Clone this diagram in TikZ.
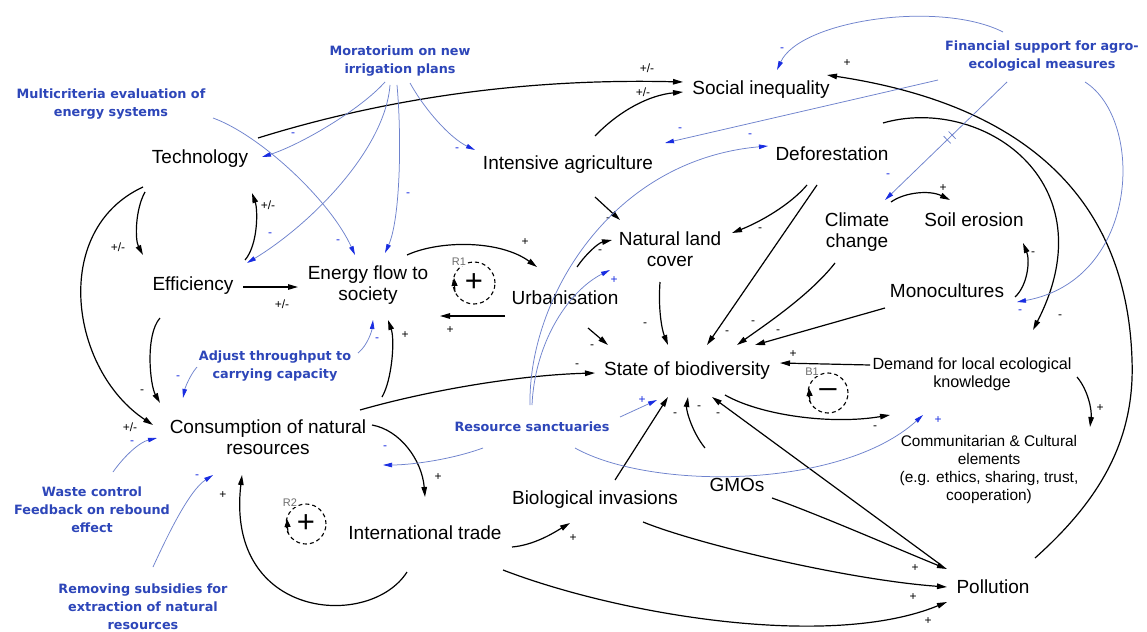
\documentclass[tikz,border=0pt]{standalone}
\usepackage{fontspec}
\setmainfont{Liberation Sans}
\newfontfamily\blfont{DejaVu Sans}
\usetikzlibrary{arrows.meta}
\definecolor{txtblue}{RGB}{45,70,185}
\definecolor{lnblue}{RGB}{110,130,205}
\definecolor{tipblue}{RGB}{25,45,225}
\definecolor{loopgray}{RGB}{110,110,110}
\begin{document}
\begin{tikzpicture}[x=1pt,y=-1pt,
  var/.style={font=\fontsize{19}{20.5}\selectfont, align=center, inner sep=1pt},
  svar/.style={font=\fontsize{16.2}{18}\selectfont, align=center, inner sep=1pt},
  svartwo/.style={font=\fontsize{15.4}{18}\selectfont, align=center, inner sep=1pt},
  lever/.style={font=\blfont\bfseries\fontsize{12.8}{18}\selectfont, text=txtblue, align=center, inner sep=1pt},
  kl/.style={draw=black, line width=1.2pt, -{Triangle[length=10pt,width=5.5pt]}},
  bl/.style={draw=lnblue, line width=0.75pt, -{Triangle[length=9pt,width=4.5pt,color=tipblue]}},
  pol/.style={font=\fontsize{12}{12}\selectfont, inner sep=0pt},
  bpol/.style={pol, text=tipblue},
  loopsym/.style={inner sep=0pt, font=\fontsize{31}{31}\selectfont},
  loopdash/.style={draw, dash pattern=on 4pt off 3pt, line width=1.1pt},
  looplab/.style={font=\fontsize{11}{11}\selectfont, text=loopgray, fill=white, inner sep=0.3pt},
  looparr/.style={line width=1.1pt, -{Triangle[length=8pt,width=6pt]}}
]
\useasboundingbox[fill=white] (0,0) rectangle (1147,631);

% ---------- variables ----------
\node[var] (soc) at (761,90) {Social inequality};
\node[var] (tech) at (200,159) {Technology};
\node[var] (intag) at (568,165) {Intensive agriculture};
\node[var] (defor) at (832,154) {Deforestation};
\node[var] (nat) at (670,249) {Natural land\\cover};
\node[var] (clim) at (857,232) {Climate\\change};
\node[var] (soil) at (974,220) {Soil erosion};
\node[var] (eff) at (193,286) {Efficiency};
\node[var] (energy) at (368,285) {Energy flow to\\society};
\node[var] (urb) at (565,298) {Urbanisation};
\node[var] (mono) at (947,291) {Monocultures};
\node[var] (sob) at (687,371) {State of biodiversity};
\node[svar] (demand) at (972,374) {Demand for local ecological\\knowledge};
\node[var] (cons) at (268,437) {Consumption of natural\\resources};
\node[svartwo] (comm) at (989,470) {Communitarian \& Cultural\\elements\\(e.g. ethics, sharing, trust,\\cooperation)};
\node[var] (trade) at (425,533) {International trade};
\node[var] (bio) at (595,500) {Biological invasions};
\node[var] (gmo) at (737,485) {GMOs};
\node[var] (poll) at (993,587) {Pollution};

% ---------- levers ----------
\node[lever] (multi) at (111,104) {Multicriteria evaluation of\\energy systems};
\node[lever] (mora) at (400,61) {Moratorium on new\\irrigation plans};
\node[lever] (fin) at (1042,56) {Financial support for agro-\\ecological measures};
\node[lever] (adjust) at (275,366) {Adjust throughput to\\carrying capacity};
\node[lever] (waste) at (92,510) {Waste control\\Feedback on rebound\\effect};
\node[lever] (remove) at (143,607) {Removing subsidies for\\extraction of natural\\resources};
\node[lever] (sanct) at (532,427) {Resource sanctuaries};

% ---------- loops ----------
\node[loopsym] (r1) at (474,283) {+};
\draw[loopdash] (r1.center) circle[radius=21pt];
\node[looplab] (r1l) at (459,262) {R1};
\draw[looparr] ([shift={(-19,9)}]r1.center) -- ([shift={(-20,-5)}]r1.center);
\node[loopsym] (b1) at (828,393) {--};
\draw[loopdash] (b1.center) circle[radius=20pt];
\node[looplab] (b1l) at (812,372) {B1};
\draw[looparr] ([shift={(-18,9)}]b1.center) -- ([shift={(-19,-5)}]b1.center);
\node[loopsym] (r2) at (306,524) {+};
\draw[loopdash] (r2.center) circle[radius=20pt];
\node[looplab] (r2l) at (290,503) {R2};
\draw[looparr] ([shift={(-18,9)}]r2.center) -- ([shift={(-19,-5)}]r2.center);

% ---------- black links ----------
\draw[kl] ([shift={(58,-21)}]tech.center) .. controls +(122,-38) and +(-163,-4) .. ([shift={(-78,-8)}]soc.center) node[pol] (p1) at (647,68) {+/-};
\draw[kl] ([shift={(27,-29)}]intag.center) .. controls +(25,-26) and +(-33,3) .. ([shift={(-78,2)}]soc.center) node[pol] (p2) at (643,92) {+/-};
\draw[kl] ([shift={(-55,33)}]tech.center) .. controls +(-10,18) and +(-8,-15) .. ([shift={(-50,-31)}]eff.center) node[pol] (p3) at (118,247) {+/-};
\draw[kl] ([shift={(52,-26)}]eff.center) .. controls +(13,-15) and +(6,17) .. ([shift={(52,34)}]tech.center) node[pol] (p4) at (268,205) {+/-};
\draw[kl] ([shift={(50,1)}]eff.center) -- ([shift={(-70,2)}]energy.center) node[pol] (p5) at (282,304) {+/-};
\draw[kl] ([shift={(-57,28)}]tech.center) .. controls +(-93,43) and +(-83,-55) .. ([shift={(-115,-12)}]cons.center) node[pol] (p6) at (130,427) {+/-};
\draw[kl] ([shift={(-33,32)}]eff.center) .. controls +(-15,17) and +(-10,-18) .. ([shift={(-108,-34)}]cons.center) node[pol] (p7) at (142,392) {-};
\draw[kl] ([shift={(39,-30)}]energy.center) .. controls +(33,-15) and +(-37,-27) .. ([shift={(-28,-31)}]urb.center) node[pol] (p8) at (525,242) {+};
\draw[kl] ([shift={(-60,18)}]urb.center) -- ([shift={(72,31)}]energy.center) node[pol] (p9) at (450,330) {+};
\draw[kl] ([shift={(114,-40)}]cons.center) .. controls +(10,-17) and +(7,20) .. ([shift={(20,35)}]energy.center) node[pol] (p10) at (405,335) {+};
\draw[kl] ([shift={(92,-27)}]cons.center) .. controls +(70,-20) and +(-75,2) .. ([shift={(-92,2)}]sob.center) node[pol] (p11) at (577,366) {-};
\draw[kl] ([shift={(104,-12)}]cons.center) .. controls +(28,5) and +(-3,-37) .. ([shift={(0,-36)}]trade.center) node[pol] (p12) at (438,477) {+};
\draw[kl] ([shift={(-18,39)}]trade.center) .. controls +(-37,58) and +(-17,145) .. ([shift={(-26,38)}]cons.center) node[pol] (p13) at (223,495) {+};
\draw[kl] ([shift={(87,14)}]trade.center) .. controls +(23,-2) and +(-15,9) .. ([shift={(-25,23)}]bio.center) node[pol] (p14) at (573,538) {+};
\draw[kl] ([shift={(78,37)}]trade.center) .. controls +(117,45) and +(-117,48) .. ([shift={(-46,15)}]poll.center) node[pol] (p15) at (928,621) {+};
\draw[kl] ([shift={(48,22)}]bio.center) .. controls +(57,23) and +(-97,-7) .. ([shift={(-46,0)}]poll.center) node[pol] (p16) at (913,597) {+};
\draw[kl] ([shift={(35,13)}]gmo.center) .. controls +(48,17) and +(-47,-19) .. ([shift={(-46,-18)}]poll.center) node[pol] (p17) at (915,568) {+};
\draw[kl] ([shift={(20,-20)}]bio.center) -- ([shift={(-19,26)}]sob.center) node[pol] (p19) at (675,415) {-};
\draw[kl] ([shift={(-32,-37)}]gmo.center) .. controls +(-13,-16) and +(-2,13) .. ([shift={(1,26)}]sob.center) node[pol] (p20) at (699,408) {-};
\draw[kl] ([shift={(-52,-22)}]poll.center) -- ([shift={(25,26)}]sob.center) node[pol] (p21) at (718,415) {-};
\draw[kl] ([shift={(38,24)}]sob.center) .. controls +(35,20) and +(-60,10) .. ([shift={(-82,41)}]demand.center) node[pol] (p22) at (875,428) {-};
\draw[kl] ([shift={(-102,-9)}]demand.center) -- ([shift={(93,-8)}]sob.center) node[pol] (p23) at (793,354) {+};
\draw[kl] ([shift={(105,3)}]demand.center) .. controls +(11,13) and +(2,-17) .. ([shift={(101,-43)}]comm.center) node[pol] (p24) at (1100,408) {+};
\coordinate (pmid) at (1132,360);
\draw[kl] ([shift={(42,-29)}]poll.center) .. controls +(65,-58) and +(3,80) .. (pmid) .. controls +(-4,-130) and +(233,35) .. ([shift={(66,-15)}]soc.center) node[pol] (p25) at (847,63) {+};
\draw[kl] ([shift={(51,-31)}]defor.center) .. controls +(97,-28) and +(77,-150) .. ([shift={(61,-44)}]demand.center) node[pol] (p26) at (1060,317) {-};
\draw[kl] ([shift={(-25,31)}]defor.center) .. controls +(-17,20) and +(28,-11) .. ([shift={(62,-16)}]nat.center) node[pol] (p27) at (760,230) {-};
\draw[kl] ([shift={(-15,31)}]defor.center) -- ([shift={(20,-26)}]sob.center) node[pol] (p28) at (727,333) {-};
\draw[kl] ([shift={(-22,31)}]clim.center) .. controls +(-25,32) and +(28,-20) .. ([shift={(50,-26)}]sob.center) node[pol] (p29) at (753,323) {-};
\draw[kl] ([shift={(-62,17)}]mono.center) -- ([shift={(68,-26)}]sob.center) node[pol] (p30) at (778,332) {-};
\draw[kl] ([shift={(68,6)}]mono.center) .. controls +(13,-12) and +(7,17) .. ([shift={(49,23)}]soil.center) node[pol] (p31) at (1033,254) {-};
\draw[kl] ([shift={(34,-30)}]clim.center) .. controls +(14,-10) and +(-20,-10) .. ([shift={(-24,-20)}]soil.center) node[pol] (p32) at (943,188) {+};
\draw[kl] ([shift={(27,32)}]intag.center) -- ([shift={(-50,-29)}]nat.center) node[pol] (p33) at (608,220) {-};
\draw[kl] ([shift={(12,-31)}]urb.center) .. controls +(8,-12) and +(-14,3) .. ([shift={(-58,-9)}]nat.center) node[pol] (p34) at (600,252) {-};
\draw[kl] ([shift={(-10,33)}]nat.center) .. controls +(-2,28) and +(-6,-15) .. ([shift={(-19,-26)}]sob.center) node[pol] (p35) at (645,325) {-};
\draw[kl] ([shift={(23,30)}]urb.center) -- ([shift={(-79,-26)}]sob.center) node[pol] (p36) at (592,347) {-};

% ---------- blue links ----------
\draw[bl] ([shift={(-15,21)}]mora.center) .. controls +(-25,28) and +(38,-12) .. ([shift={(62,-2)}]tech.center) node[bpol] (q1) at (293,135) {-};
\draw[bl] ([shift={(-10,24)}]mora.center) .. controls +(-5,65) and +(63,-38) .. ([shift={(54,-23)}]eff.center) node[bpol] (q2) at (270,235) {-};
\draw[bl] ([shift={(102,14)}]multi.center) .. controls +(47,17) and +(-25,-55) .. ([shift={(-13,-30)}]energy.center) node[bpol] (q3) at (338,242) {-};
\draw[bl] ([shift={(-3,24)}]mora.center) .. controls +(5,55) and +(15,-33) .. ([shift={(17,-32)}]energy.center) node[bpol] (q4) at (408,195) {-};
\draw[bl] ([shift={(10,22)}]mora.center) .. controls +(15,27) and +(-25,-12) .. ([shift={(-93,-15)}]intag.center) node[bpol] (q5) at (457,150) {-};
\draw[bl] ([shift={(-39,-24)}]fin.center) .. controls +(-63,-32) and +(23,-50) .. ([shift={(16,-20)}]soc.center) node[bpol] (q6) at (782,50) {-};
\draw[bl] ([shift={(-104,24)}]fin.center) -- ([shift={(97,-22)}]intag.center) node[bpol] (q7) at (680,130) {-};
\draw[bl] ([shift={(-35,26)}]fin.center) -- ([shift={(28,-32)}]clim.center)
   coordinate[pos=0.45] (dk1) coordinate[pos=0.49] (dk2) node[bpol] (q8) at (888,176) {-};
\draw[lnblue, line width=0.75pt] ([shift={(-3.5,-3.6)}]dk1) -- ([shift={(3.5,3.6)}]dk1);
\draw[lnblue, line width=0.75pt] ([shift={(-3.5,-3.6)}]dk2) -- ([shift={(3.5,3.6)}]dk2);
\draw[bl] ([shift={(43,26)}]fin.center) .. controls +(60,38) and +(123,-22) .. ([shift={(70,11)}]mono.center) node[bpol] (q9) at (1020,312) {-};
\draw[bl] ([shift={(83,-13)}]adjust.center) .. controls +(10,-8) and +(-1,10) .. ([shift={(5,35)}]energy.center) node[bpol] (q10) at (377,340) {-};
\draw[bl] ([shift={(-78,1)}]adjust.center) .. controls +(-7,8) and +(2,-10) .. ([shift={(-85,-39)}]cons.center) node[bpol] (q11) at (178,378) {-};
\draw[bl] ([shift={(21,-38)}]waste.center) .. controls +(12,-17) and +(-17,4) .. ([shift={(-111,1)}]cons.center) node[bpol] (q12) at (132,443) {-};
\draw[bl] ([shift={(10,-40)}]remove.center) .. controls +(17,-37) and +(-23,15) .. ([shift={(-55,38)}]cons.center) node[bpol] (q13) at (197,477) {-};
\draw[bl] ([shift={(-49,21)}]sanct.center) .. controls +(-33,12) and +(27,0) .. ([shift={(115,28)}]cons.center) node[bpol] (q14) at (385,448) {-};
\draw[bl] ([shift={(88,-10)}]sanct.center) -- ([shift={(-30,29)}]sob.center) node[bpol] (q15) at (642,400) {+};
\draw[bl] ([shift={(-2,-22)}]sanct.center) .. controls +(-2,-105) and +(-158,14) .. ([shift={(-64,-8)}]defor.center) node[bpol] (q16) at (750,136) {-};
\draw[bl] ([shift={(0,-22)}]sanct.center) .. controls +(3,-65) and +(-40,20) .. ([shift={(-60,21)}]nat.center) node[bpol] (q17) at (614,280) {+};
\draw[bl] ([shift={(43,21)}]sanct.center) .. controls +(75,42) and +(-83,75) .. ([shift={(-66,-55)}]comm.center) node[bpol] (q18) at (938,420) {+};
\end{tikzpicture}
\end{document}
